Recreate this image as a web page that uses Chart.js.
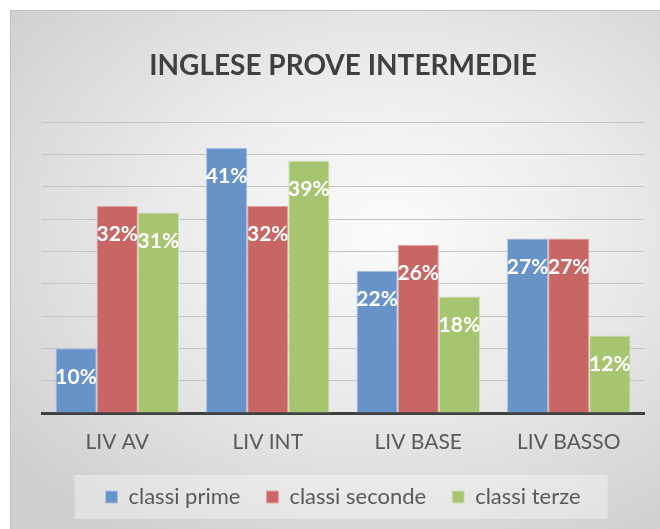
<!DOCTYPE html>
<html>
<head>
<meta charset="utf-8">
<script src="https://cdn.jsdelivr.net/npm/chart.js@4/dist/chart.umd.min.js"></script>
<style>
  html, body { margin: 0; padding: 0; background: #ffffff; }
  #frame {
    position: absolute; left: 10px; top: 10px; width: 650px; height: 519px;
    border-top: 1px solid #c2c2c2; border-left: 1px solid #c2c2c2;
    background: radial-gradient(ellipse 75% 70% at 58% 42%, #fbfbfb 0%, #ebebeb 45%, #cfcfcf 100%);
  }
  #wrap { position: absolute; left: 0; top: 0; width: 660px; height: 529px; }
</style>
</head>
<body>
<div id="frame"></div>
<div id="wrap"><canvas id="chart" width="660" height="529"></canvas></div>
<script>
// Dati del grafico
var categories = ["LIV AV", "LIV INT", "LIV BASE", "LIV BASSO"];
var seriesNames = ["classi prime", "classi seconde", "classi terze"];
var primeValues = [10, 41, 22, 27];
var secondeValues = [32, 32, 26, 27];
var terzeValues = [31, 39, 18, 12];
var yMax = 45;
var yStep = 5;

var fillColors = ["#6793c8", "#c86565", "#a7c470"];
var edgeColors = ["#a9c2e2", "#e3a3a3", "#cfe0ae"];
var fontFamily = "Lato, 'Open Sans', sans-serif";

// Etichette bianche in cima alle barre
var valueLabels = {
  id: "valueLabels",
  afterDatasetsDraw: function (chart) {
    var ctx = chart.ctx;
    ctx.save();
    ctx.font = "bold 21px " + fontFamily;
    ctx.fillStyle = "#ffffff";
    ctx.textAlign = "center";
    ctx.textBaseline = "middle";
    chart.data.datasets.forEach(function (ds, i) {
      chart.getDatasetMeta(i).data.forEach(function (bar, j) {
        ctx.fillText(ds.data[j] + "%", bar.x, bar.y + 28.5);
      });
    });
    ctx.restore();
  }
};

// Riquadro chiaro dietro la legenda
var legendBox = {
  id: "legendBox",
  beforeDraw: function (chart) {
    var boxes = chart.legend && chart.legend.legendHitBoxes;
    if (!boxes || !boxes.length) return;
    var left = boxes[0].left, right = 0, top = boxes[0].top, bottom = 0;
    boxes.forEach(function (b) {
      left = Math.min(left, b.left);
      right = Math.max(right, b.left + b.width);
      top = Math.min(top, b.top);
      bottom = Math.max(bottom, b.top + b.height);
    });
    var ctx = chart.ctx;
    ctx.save();
    ctx.fillStyle = "rgba(255,255,255,0.35)";
    ctx.fillRect(left - 31, top - 11, right - left + 58, bottom - top + 22);
    ctx.restore();
  }
};

var datasets = [primeValues, secondeValues, terzeValues].map(function (vals, i) {
  return {
    label: seriesNames[i],
    data: vals,
    backgroundColor: fillColors[i],
    borderColor: edgeColors[i],
    borderWidth: 1,
    borderSkipped: "bottom"
  };
});

new Chart(document.getElementById("chart"), {
  type: "bar",
  data: { labels: categories, datasets: datasets },
  options: {
    responsive: false,
    animation: false,
    events: [],
    layout: { padding: { left: 42, right: 16, top: 0, bottom: 11 } },
    datasets: { bar: { categoryPercentage: 0.82, barPercentage: 1 } },
    plugins: {
      title: {
        display: true,
        text: "INGLESE PROVE INTERMEDIE",
        color: "#404040",
        font: { family: fontFamily, size: 28, weight: "bold" },
        padding: { top: 49.5, bottom: 38.9 }
      },
      legend: {
        position: "bottom",
        labels: {
          color: "#595959",
          font: { family: fontFamily, size: 22 },
          boxWidth: 12,
          boxHeight: 12,
          padding: 26
        }
      },
      tooltip: { enabled: false }
    },
    scales: {
      x: {
        grid: { display: false, drawTicks: false },
        border: { display: true, color: "#404040", width: 3 },
        ticks: { color: "#595959", font: { family: fontFamily, size: 21 }, padding: 17 },
        afterFit: function (scale) { scale.height = 47; }
      },
      y: {
        min: 0,
        max: yMax,
        ticks: { display: false, stepSize: yStep },
        grid: { color: "#c4c4c4", lineWidth: 1, drawTicks: false },
        border: { display: false },
        afterFit: function (scale) { scale.width = 0; }
      }
    }
  },
  plugins: [legendBox, valueLabels]
});
</script>
</body>
</html>
